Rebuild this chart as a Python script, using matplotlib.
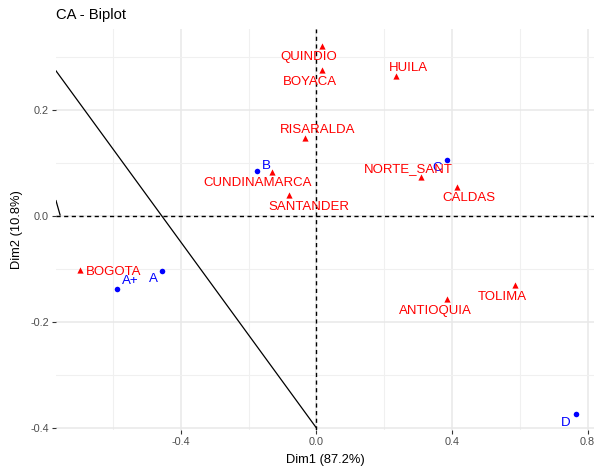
import matplotlib
matplotlib.use("Agg")
import matplotlib.pyplot as plt
from matplotlib.ticker import MultipleLocator

plt.rcParams['font.family'] = ['Liberation Sans', 'DejaVu Sans']

# Row points (departments)
row_names = ["QUINDIO", "BOYACA", "HUILA", "RISARALDA", "CUNDINAMARCA", "SANTANDER",
             "NORTE_SANT", "CALDAS", "BOGOTA", "ANTIOQUIA", "TOLIMA"]
row_dim1 = [0.016, 0.016, 0.234, -0.034, -0.131, -0.080, 0.309, 0.414, -0.697, 0.386, 0.586]
row_dim2 = [0.321, 0.275, 0.265, 0.148, 0.083, 0.040, 0.074, 0.054, -0.102, -0.156, -0.131]

# Column points (categories)
col_names = ["B", "C", "A+", "A", "D"]
col_dim1 = [-0.175, 0.384, -0.588, -0.454, 0.767]
col_dim2 = [0.084, 0.105, -0.138, -0.103, -0.374]

# Extra line segments seen in the plot
line1_x = [-0.768, 0.0]
line1_y = [0.274, -0.400]
line2_x = [-0.768, -0.756]
line2_y = [0.029, 0.002]

title = "CA - Biplot"
xlabel = "Dim1 (87.2%)"
ylabel = "Dim2 (10.8%)"

# label offsets in pixels (dx right, dy down)
row_off = {"QUINDIO": (-13, 11), "BOYACA": (-12, 11.5), "HUILA": (13, -7.7),
           "RISARALDA": (12.8, -7.3), "CUNDINAMARCA": (-14, 11.3), "SANTANDER": (20, 11.7),
           "NORTE_SANT": (-12.7, -7.7), "CALDAS": (12.5, 11), "BOGOTA": (34, 2.3),
           "ANTIOQUIA": (-12.3, 12), "TOLIMA": (-13, 11.6)}
col_off = {"B": (9.7, -5.6), "C": (-9, 8), "A+": (13.3, -7.6), "A": (-9.3, 8), "D": (-10.6, 9)}

W, H = 594, 468
fig = plt.figure(figsize=(W / 100, H / 100), dpi=100)
L, R, T, B = 56, 594, 29, 430
ax = fig.add_axes([L / W, 1 - B / H, (R - L) / W, (B - T) / H])

ax.set_xlim(-0.768, 0.819)
ax.set_ylim(-0.404, 0.353)

for s in ax.spines.values():
    s.set_visible(False)

ax.xaxis.set_major_locator(MultipleLocator(0.4))
ax.xaxis.set_minor_locator(MultipleLocator(0.2))
ax.yaxis.set_major_locator(MultipleLocator(0.2))
ax.yaxis.set_minor_locator(MultipleLocator(0.1))
ax.grid(which='major', color='#E8E8E8', linewidth=1.1, zorder=0)
ax.grid(which='minor', color='#F0F0F0', linewidth=0.8, zorder=0)
ax.set_axisbelow(True)
ax.tick_params(which='major', length=3, width=0.8, color='#333333',
               labelcolor='#4D4D4D', labelsize=7.8, pad=2)
ax.tick_params(which='minor', length=0)
ax.xaxis.set_major_formatter(plt.FuncFormatter(lambda v, p: f"{v:.1f}"))
ax.yaxis.set_major_formatter(plt.FuncFormatter(lambda v, p: f"{v:.1f}"))

ax.axhline(0, color='black', linestyle=(0, (3, 2.5)), linewidth=1.0, zorder=1)
ax.axvline(0, color='black', linestyle=(0, (3, 2.5)), linewidth=1.0, zorder=1)

ax.plot(line1_x, line1_y, color='black', linewidth=0.9, zorder=2)
ax.plot(line2_x, line2_y, color='black', linewidth=0.9, zorder=2)

ax.scatter(col_dim1, col_dim2, marker='o', s=16, color='#0000FF', zorder=3, linewidths=0)
for n, x, y in zip(col_names, col_dim1, col_dim2):
    dx, dy = col_off[n]
    ax.annotate(n, (x, y), xytext=(dx, -dy), textcoords='offset pixels',
                ha='center', va='center', color='#0000FF', fontsize=9.6, zorder=4)

ax.scatter(row_dim1, row_dim2, marker='^', s=20, color='#FF0000', zorder=3, linewidths=0)
for n, x, y in zip(row_names, row_dim1, row_dim2):
    dx, dy = row_off[n]
    ax.annotate(n, (x, y), xytext=(dx, -dy), textcoords='offset pixels',
                ha='center', va='center', color='#FF0000', fontsize=9.5, zorder=5)

fig.text(L / W, 1 - 15 / H, title, ha='left', va='center', fontsize=10.6, color='black')
fig.text((L + R) / 2 / W, 1 - 460 / H, xlabel, ha='center', va='center', fontsize=9.3, color='black')
fig.text(17 / W, 1 - (T + B) / 2 / H, ylabel, ha='center', va='center', rotation=90,
         fontsize=9.3, color='black')

fig.savefig("out.png", dpi=100)
